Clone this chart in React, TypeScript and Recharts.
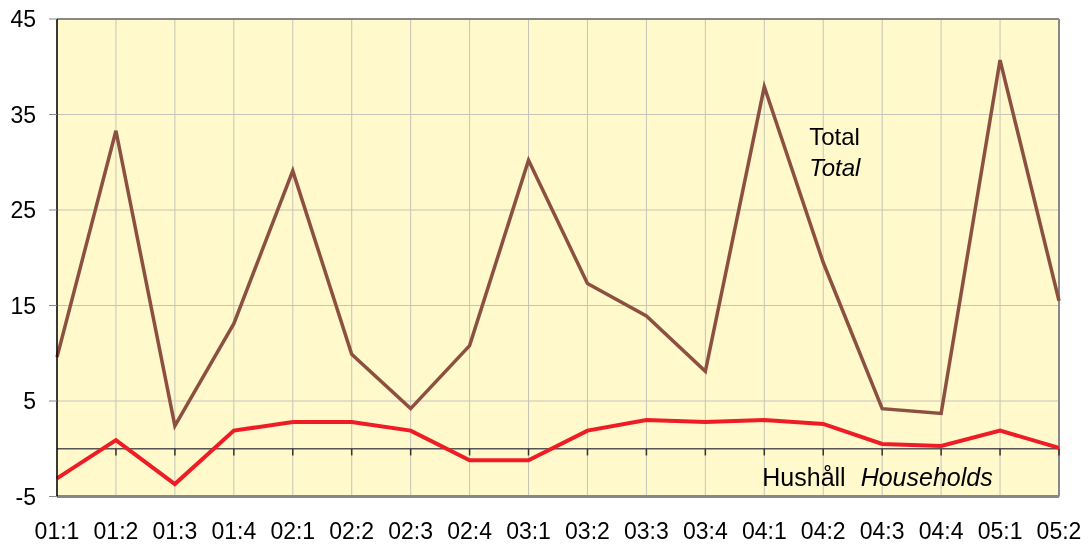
import React from 'react';
import {
  LineChart,
  Line,
  XAxis,
  YAxis,
  CartesianGrid,
  ReferenceLine,
  ReferenceDot,
} from 'recharts';

const periods = [
  '01:1', '01:2', '01:3', '01:4', '02:1', '02:2', '02:3', '02:4', '03:1',
  '03:2', '03:3', '03:4', '04:1', '04:2', '04:3', '04:4', '05:1', '05:2',
];
const totalValues = [
  9.6, 33.3, 2.4, 13.1, 29.1, 9.9, 4.2, 10.8, 30.2,
  17.3, 13.9, 8.1, 37.9, 19.5, 4.2, 3.7, 40.7, 15.5,
];
const householdValues = [
  -3.1, 0.9, -3.7, 1.9, 2.8, 2.8, 1.9, -1.2, -1.2,
  1.9, 3.0, 2.8, 3.0, 2.6, 0.5, 0.3, 1.9, 0.1,
];
const yTicks = [-5, 5, 15, 25, 35, 45];

const data = periods.map((period, i) => ({
  period,
  total: totalValues[i],
  households: householdValues[i],
}));

const FONT = '"Liberation Sans", Arial, sans-serif';
const FS = 23;

const TotalLabel = (props: any) => {
  const { viewBox } = props;
  const x = viewBox.x - 14;
  const y = viewBox.y;
  return (
    <g fontFamily={FONT} fontSize={24} fill="#000">
      <text x={x} y={y - 15} dominantBaseline="central">Total</text>
      <text x={x} y={y + 16} dominantBaseline="central" fontStyle="italic">Total</text>
    </g>
  );
};

const HouseholdLabel = (props: any) => {
  const { viewBox } = props;
  const x = viewBox.x - 2;
  const y = viewBox.y;
  return (
    <text x={x} y={y} dominantBaseline="central" fontFamily={FONT} fontSize={25} fill="#000">
      <tspan>Hushåll</tspan>
      <tspan dx={15} fontStyle="italic">Households</tspan>
    </text>
  );
};

export default function App() {
  return (
    <div style={{ position: 'fixed', left: 0, top: 0, width: 1090, height: 546 }}>
      <LineChart
        width={1090}
        height={546}
        data={data}
        margin={{ top: 19, right: 31, bottom: 0, left: 0 }}
      >
        <CartesianGrid stroke="#c6c4b8" fill="#fff9cc" strokeWidth={1} />
        <XAxis
          dataKey="period"
          interval={0}
          height={49.5}
          tickLine={false}
          tickSize={0}
          axisLine={false}
          tickMargin={26}
          fontSize={FS}
          tick={{ fill: '#000', fontSize: FS, fontFamily: FONT }}
        />
        <YAxis
          domain={[-5, 45]}
          ticks={yTicks}
          width={57}
          interval={0}
          tickSize={8}
          tickMargin={13}
          fontSize={FS}
          tickLine={{ stroke: '#888' }}
          axisLine={{ stroke: '#000', strokeWidth: 1.5 }}
          tick={{ fill: '#000', fontSize: FS, fontFamily: FONT }}
        />
        <ReferenceLine y={45} stroke="#888" strokeWidth={2} />
        <ReferenceLine y={-5} stroke="#888" strokeWidth={3} />
        <ReferenceLine x={periods[periods.length - 1]} stroke="#888" strokeWidth={2} />
        <ReferenceLine y={0} stroke="#555" strokeWidth={1.5} />
        {periods.slice(1).map((p) => (
          <ReferenceLine
            key={p}
            segment={[{ x: p, y: 0 }, { x: p, y: -0.7 }]}
            stroke="#333"
            strokeWidth={1.5}
          />
        ))}
        <ReferenceDot x="04:2" y={31.1} r={0} label={<TotalLabel />} />
        <ReferenceDot x="04:1" y={-3} r={0} label={<HouseholdLabel />} />
        <Line
          dataKey="total"
          stroke="#8c5040"
          strokeWidth={3.5}
          dot={false}
          isAnimationActive={false}
        />
        <Line
          dataKey="households"
          stroke="#ee1c25"
          strokeWidth={4}
          dot={false}
          isAnimationActive={false}
        />
      </LineChart>
    </div>
  );
}
